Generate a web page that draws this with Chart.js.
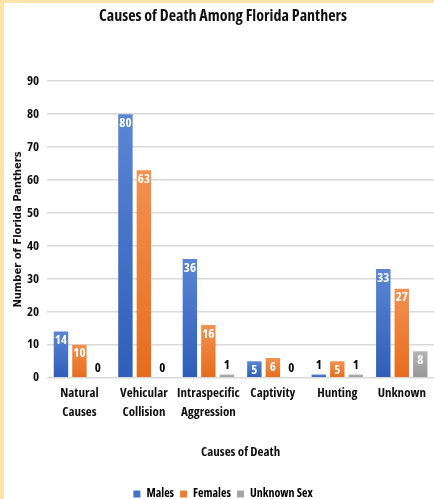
<!DOCTYPE html>
<html>
<head>
<meta charset="utf-8">
<script src="https://cdn.jsdelivr.net/npm/chart.js@4/dist/chart.umd.min.js"></script>
<style>
  html, body { margin: 0; padding: 0; background: #fff; }
  #wrap {
    width: 434px; height: 499px; box-sizing: border-box;
    border-left: 4px solid #ffe3a8; border-top: 3px solid #ffe3a8;
    background: #fff; position: relative;
  }
  #chart { display: block; }
</style>
</head>
<body>
<div id="wrap"><canvas id="chart" width="430" height="496"></canvas></div>
<script>
// dados do gráfico
const categorias = [["Natural", "Causes"], ["Vehicular", "Collision"], ["Intraspecific", "Aggression"], "Captivity", "Hunting", "Unknown"];
const machos = [14, 80, 36, 5, 1, 33];
const femeas = [10, 63, 16, 6, 5, 27];
const desconhecido = [0, 0, 1, 0, 1, 8];
const ticksY = [0, 10, 20, 30, 40, 50, 60, 70, 80, 90];

// fonte estreita: Open Sans com font-stretch condensed (peso leva o "condensed")
const FONTE = "'Open Sans', sans-serif";
const fonte = (size, lh) => ({ family: FONTE, size: size, weight: "bold condensed", lineHeight: lh || 1.2 });

// gradiente vertical por barra (mais claro em cima)
function gradiente(claro, escuro) {
    return (ctx) => {
        const chart = ctx.chart;
        const y = chart.scales && chart.scales.y;
        if (!y || ctx.raw === undefined || !chart.chartArea) return escuro;
        const topo = y.getPixelForValue(ctx.raw);
        const base = y.getPixelForValue(0);
        if (!isFinite(topo) || !isFinite(base) || base - topo < 1) return escuro;
        const g = chart.ctx.createLinearGradient(0, topo, 0, base);
        g.addColorStop(0, claro);
        g.addColorStop(1, escuro);
        return g;
    };
}

// rótulos de valor dentro/acima das barras
const rotulos = {
    id: "rotulos",
    afterDatasetsDraw(chart) {
        const ctx = chart.ctx;
        ctx.save();
        ctx.font = "bold condensed 13px " + FONTE;
        ctx.textAlign = "center";
        ctx.textBaseline = "middle";
        chart.data.datasets.forEach((ds, i) => {
            const meta = chart.getDatasetMeta(i);
            meta.data.forEach((bar, j) => {
                const v = ds.data[j];
                if (v >= 5) {
                    ctx.fillStyle = "#ffffff";
                    ctx.fillText(String(v), bar.x, bar.y + 9);
                } else {
                    ctx.fillStyle = "#000000";
                    ctx.fillText(String(v), bar.x, bar.y - 9);
                }
            });
        });
        ctx.restore();
    }
};

new Chart(document.getElementById("chart"), {
    type: "bar",
    data: {
        labels: categorias,
        datasets: [
            { label: "Males", data: machos, backgroundColor: gradiente("#5a86d4", "#2f5eb8"), legendColor: "#4472c4" },
            { label: "Females", data: femeas, backgroundColor: gradiente("#f39150", "#e66c1c"), legendColor: "#ed7d31" },
            { label: "Unknown Sex", data: desconhecido, backgroundColor: gradiente("#b5b5b5", "#979797"), legendColor: "#a5a5a5" }
        ]
    },
    options: {
        responsive: false,
        animation: false,
        barPercentage: 0.78,
        categoryPercentage: 0.86,
        layout: { padding: { left: 8, right: 0, top: 4, bottom: -11 } },
        plugins: {
            title: {
                display: true,
                text: "Causes of Death Among Florida Panthers",
                color: "#111",
                font: fonte(16),
                padding: { top: 0, bottom: 55 }
            },
            legend: {
                position: "bottom",
                labels: {
                    color: "#111",
                    font: fonte(12),
                    boxWidth: 7,
                    boxHeight: 7,
                    padding: 6,
                    generateLabels(chart) {
                        return chart.data.datasets.map((ds, i) => ({
                            text: ds.label,
                            fillStyle: ds.legendColor,
                            strokeStyle: ds.legendColor,
                            lineWidth: 0,
                            datasetIndex: i
                        }));
                    }
                }
            },
            tooltip: { enabled: false }
        },
        scales: {
            x: {
                grid: { display: false, drawTicks: false },
                border: { display: true, color: "#d9d9d9" },
                ticks: {
                    color: "#111",
                    font: fonte(13, 1.45),
                    maxRotation: 0,
                    autoSkip: false,
                    padding: 6
                },
                title: {
                    display: true,
                    text: "Causes of Death",
                    color: "#111",
                    font: fonte(13),
                    padding: { top: 17, bottom: 22 }
                }
            },
            y: {
                min: 0,
                max: 90,
                afterBuildTicks(axis) { axis.ticks = ticksY.map(v => ({ value: v })); },
                grid: { color: "#d9d9d9", lineWidth: 1.5, drawTicks: false },
                border: { display: false },
                ticks: {
                    color: "#111",
                    font: fonte(13),
                    padding: 8
                },
                title: {
                    display: true,
                    text: "Number of Florida Panthers",
                    color: "#111",
                    font: { family: "'DejaVu Sans', sans-serif", size: 10, weight: "bold" },
                    padding: { top: 0, bottom: -5 }
                }
            }
        }
    },
    plugins: [rotulos]
});
</script>
</body>
</html>
